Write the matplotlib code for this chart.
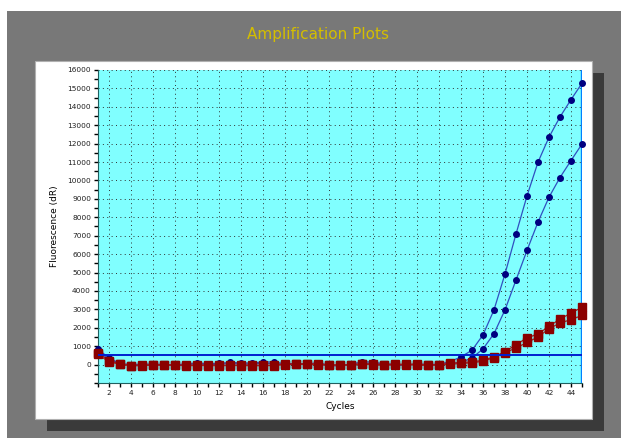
"""Amplification plot (qPCR style) recreated with matplotlib."""

import matplotlib.pyplot as plt
import numpy as np
from matplotlib.patches import Rectangle
from matplotlib.ticker import MultipleLocator

cycles = list(range(1, 46))

blue_a = [850, 350, 60, 0, 20, 30, 10, -20, 40, 80, 50, 60, 120, 90, 80, 150, 140, 40,
          60, 40, 100, -30, -50, 20, 150, 140, 40, 20, -20, 40, 10, 20, 160, 420, 780,
          1610, 2970, 4920, 7090, 9160, 10990, 12350, 13450, 14390, 15280]
blue_b = [700, 300, 40, -40, -60, -20, -30, -40, 0, 40, 0, 20, 60, 40, 20, 80, 60, 0,
          20, 0, 20, -60, -70, -20, 60, 80, 0, -20, -30, 20, -40, -10, 60, 120, 360,
          850, 1680, 2970, 4590, 6200, 7740, 9090, 10160, 11080, 11980]
red_a = [650, 200, 50, -50, -30, -10, -10, -30, -40, -30, -30, -40, -40, -30, -30, -40,
         -30, 30, 30, 40, 30, -10, -20, 0, 40, 30, 0, 20, 20, 20, -10, 0, 60, 110, 150,
         230, 420, 700, 1080, 1450, 1660, 2080, 2470, 2800, 3110]
red_b = [550, 150, 20, -60, -50, -30, -20, -30, -60, -50, -50, -60, -50, -50, -60, -60,
         -50, 0, 10, 10, 0, -30, -40, -20, 10, 0, -30, -10, -10, -20, -40, -20, 20, 60,
         100, 180, 380, 650, 900, 1200, 1500, 1950, 2260, 2440, 2670]
threshold = 520

BG_GREY = "#787878"
SHADOW = "#3a3a3a"
PLOT_BG = "#80ffff"
NAVY = "#000080"
BLUE_LINE = "#3050c0"
RED = "#8b0000"
RED_LINE = "#a02020"

fig = plt.figure(figsize=(6.26, 4.41), dpi=100, facecolor="white")

# frame: grey backdrop, drop shadow, white panel
fig.patches.append(Rectangle((0.0112, 0.0068), 0.981, 0.968, transform=fig.transFigure,
                             facecolor=BG_GREY, edgecolor="none", zorder=0))
fig.patches.append(Rectangle((0.0751, 0.0227), 0.8898, 0.8118, transform=fig.transFigure,
                             facecolor=SHADOW, edgecolor="none", zorder=1))
fig.patches.append(Rectangle((0.0559, 0.0499), 0.8898, 0.8118, transform=fig.transFigure,
                             facecolor="white", edgecolor="#b0b0b0", linewidth=0.8, zorder=2))

fig.text(0.508, 0.921, "Amplification Plots", color="#d4be00", fontsize=11,
         ha="center", va="center", fontfamily="DejaVu Sans")

ax = fig.add_axes([0.1565, 0.1315, 0.7732, 0.7098], zorder=3)
ax.set_facecolor(PLOT_BG)

for ys in (blue_a, blue_b):
    ax.plot(cycles, ys, color=BLUE_LINE, linewidth=0.9, marker="o", markersize=4,
            markerfacecolor=NAVY, markeredgecolor=NAVY, zorder=4, clip_on=False)
for ys in (red_a, red_b):
    ax.plot(cycles, ys, color=RED_LINE, linewidth=0.9, marker="s", markersize=5.5,
            markerfacecolor=RED, markeredgecolor=RED, zorder=5, clip_on=False)

ax.axhline(threshold, color="#0020d0", linewidth=1.4, zorder=6)
ax.axvline(45, color="#0080ff", linewidth=2.4, zorder=3)

ax.set_xlim(1, 45)
ax.set_ylim(-1000, 16000)
ax.xaxis.set_minor_locator(MultipleLocator(1))
ax.yaxis.set_minor_locator(MultipleLocator(500))
ax.set_xticks(range(2, 45, 2))
ax.set_yticks(range(0, 16001, 1000))
ax.tick_params(which="both", direction="out", length=3, width=1, labelsize=5.3,
               pad=2, colors="black", labelcolor="#202020")
ax.grid(True, which="major", color="#303030", linestyle=(0, (1, 3.5)), linewidth=0.7)

for side in ("top", "right"):
    ax.spines[side].set_visible(False)
ax.spines["left"].set_color("#206060")
ax.spines["bottom"].set_color("#206060")

ax.set_xlabel("Cycles", fontsize=6.5, labelpad=4)
ax.set_ylabel("Fluorescence (dR)", fontsize=6.5, labelpad=6)

fig.savefig("out.png", dpi=100, facecolor="white")
